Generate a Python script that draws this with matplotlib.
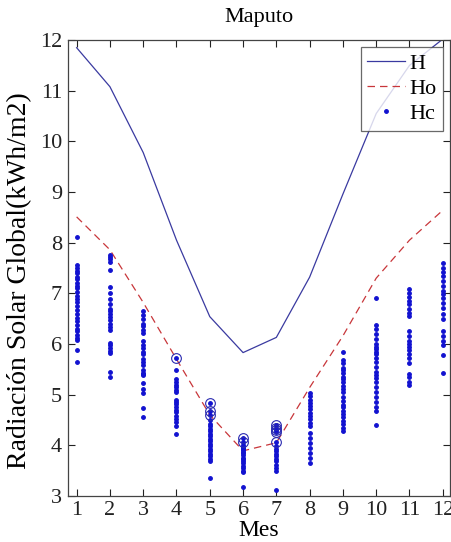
import matplotlib.pyplot as plt
import numpy as np

plt.rcParams["font.family"] = ["Liberation Serif", "DejaVu Serif"]

months = np.arange(1, 13)

# monthly global radiation (line H) and observed (Ho)
H = [11.85, 11.08, 9.78, 8.05, 6.54, 5.83, 6.13, 7.32, 8.96, 10.55, 11.5, 12.02]
Ho = [8.51, 7.86, 6.82, 5.7, 4.6, 3.89, 4.05, 5.14, 6.16, 7.3, 8.05, 8.64]

# computed values, one list per month
Hc_1 = [8.12, 7.56, 7.5, 7.45, 7.4, 7.33, 7.28, 7.2, 7.15, 7.1, 7.02, 6.95, 6.88,
        6.82, 6.75, 6.68, 6.6, 6.52, 6.45, 6.38, 6.3, 6.25, 6.18, 6.12, 6.08, 5.88, 5.65]
Hc_2 = [7.75, 7.72, 7.68, 7.62, 7.47, 7.12, 7.0, 6.88, 6.78, 6.7, 6.65, 6.6, 6.53,
        6.47, 6.4, 6.33, 6.27, 6.02, 5.98, 5.93, 5.87, 5.82, 5.45, 5.35]
Hc_3 = [6.65, 6.58, 6.5, 6.4, 6.35, 6.28, 6.22, 6.05, 5.98, 5.92, 5.85, 5.8, 5.7,
        5.65, 5.58, 5.48, 5.42, 5.4, 5.38, 5.22, 5.12, 5.03, 4.73, 4.55]
Hc_4 = [5.72, 5.48, 5.3, 5.25, 5.2, 5.15, 5.1, 5.05, 4.9, 4.85, 4.82, 4.75, 4.7,
        4.65, 4.58, 4.52, 4.45, 4.38, 4.23]
Hc_5 = [4.83, 4.67, 4.6, 4.5, 4.42, 4.38, 4.32, 4.28, 4.22, 4.18, 4.12, 4.08, 4.02,
        3.98, 3.92, 3.88, 3.82, 3.78, 3.72, 3.68, 3.35]
Hc_6 = [4.14, 4.06, 4.0, 3.97, 3.95, 3.92, 3.9, 3.87, 3.85, 3.8, 3.75, 3.72, 3.68,
        3.65, 3.6, 3.55, 3.5, 3.47, 3.18]
Hc_7 = [4.4, 4.35, 4.3, 4.27, 4.07, 3.98, 3.92, 3.88, 3.82, 3.78, 3.72, 3.68, 3.62,
        3.55, 3.5, 3.12]
Hc_8 = [5.03, 4.97, 4.9, 4.84, 4.77, 4.71, 4.64, 4.58, 4.51, 4.44, 4.38, 4.25, 4.15,
        4.05, 3.95, 3.85, 3.75, 3.65]
Hc_9 = [5.85, 5.68, 5.62, 5.53, 5.48, 5.42, 5.35, 5.3, 5.25, 5.18, 5.12, 5.05, 4.95,
        4.88, 4.8, 4.75, 4.68, 4.62, 4.55, 4.48, 4.42, 4.35, 4.28]
Hc_10 = [6.9, 6.38, 6.3, 6.2, 6.1, 6.0, 5.95, 5.9, 5.85, 5.8, 5.72, 5.65, 5.55, 5.45,
         5.38, 5.32, 5.25, 5.15, 5.05, 4.95, 4.85, 4.75, 4.68, 4.4]
Hc_11 = [7.08, 7.0, 6.92, 6.85, 6.78, 6.7, 6.62, 6.55, 6.25, 6.15, 6.05, 6.0, 5.95,
         5.88, 5.8, 5.72, 5.62, 5.4, 5.35, 5.25, 5.2]
Hc_12 = [7.59, 7.5, 7.42, 7.35, 7.25, 7.15, 7.05, 6.98, 6.9, 6.8, 6.72, 6.6, 6.5,
         6.25, 6.15, 6.05, 5.98, 5.78, 5.42]
Hc = [Hc_1, Hc_2, Hc_3, Hc_4, Hc_5, Hc_6, Hc_7, Hc_8, Hc_9, Hc_10, Hc_11, Hc_12]

# values marked with a circle (month, value)
circ_month = [4, 5, 5, 5, 6, 6, 7, 7, 7, 7, 7]
circ_value = [5.72, 4.83, 4.67, 4.6, 4.14, 4.06, 4.4, 4.35, 4.3, 4.27, 4.07]

fig = plt.figure(figsize=(4.51, 5.42), dpi=100)
ax = fig.add_axes([0.150, 0.085, 0.848, 0.841])

ax.plot(months, H, "-", color="#3a3aa0", linewidth=0.9, label="H")
ax.plot(months, Ho, "--", color="#c8363a", linewidth=0.9, dashes=(6, 4), label="Ho")

hx = np.concatenate([np.full(len(v), m) for m, v in zip(months, Hc)])
hy = np.concatenate(Hc)
ax.plot(hx, hy, ".", color="#1212d0", markersize=5, label="Hc")
ax.plot(circ_month, circ_value, "o", markerfacecolor="none",
        markeredgecolor="#2a2ab0", markersize=7, markeredgewidth=0.8)

ax.set_xlim(0.73, 12.22)
ax.set_ylim(3, 12)
ax.set_xticks(months)
ax.set_yticks(np.arange(3, 13))
ax.tick_params(direction="in", top=True, right=True, length=5, width=0.8,
               labelsize=16, pad=4, colors="#222222")
for s in ax.spines.values():
    s.set_color("#444444")
    s.set_linewidth(0.9)

ax.set_title("Maputo", fontsize=16, pad=13)
ax.set_xlabel("Mes", fontsize=17, labelpad=0)
ax.set_ylabel("Radiación Solar Global(kWh/m2)", fontsize=20)
ax.yaxis.set_label_coords(-0.093, 0.472)

leg = ax.legend(loc="upper right", fontsize=16, frameon=True, fancybox=False,
                handlelength=1.7, handletextpad=0.2, borderpad=0.3,
                labelspacing=0.2, borderaxespad=0.3)
leg.get_frame().set_edgecolor("#444444")
leg.get_frame().set_linewidth(0.9)

fig.savefig("out.png", dpi=100)
